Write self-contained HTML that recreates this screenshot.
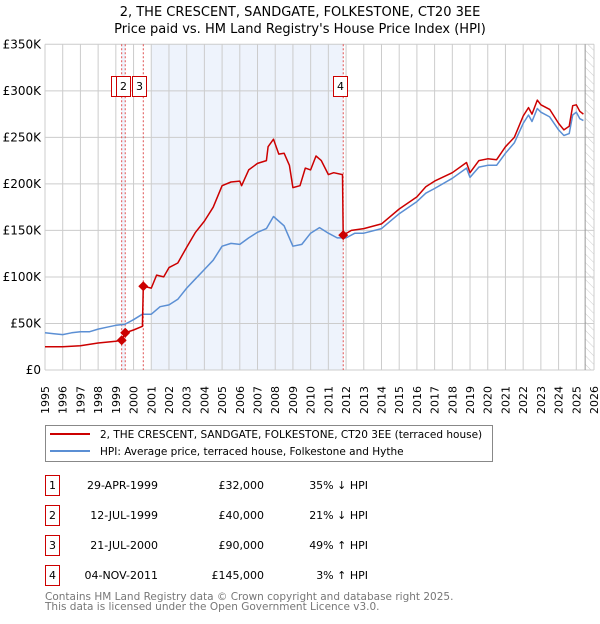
<!DOCTYPE html>
<html><head><meta charset="utf-8">
<style>
body{margin:0;background:#fff;font-family:"DejaVu Sans","Liberation Sans",sans-serif;}
svg text{font-family:"DejaVu Sans","Liberation Sans",sans-serif;}
</style></head>
<body>
<svg id="chart" width="600" height="620" viewBox="0 0 600 620" xmlns="http://www.w3.org/2000/svg">
<defs>
<pattern id="hatch" patternUnits="userSpaceOnUse" width="6" height="6" patternTransform="rotate(-45)">
<line x1="0" y1="0" x2="0" y2="6" stroke="#ccc" stroke-width="1"/>
</pattern>
</defs>
<text x="300" y="16" text-anchor="middle" font-size="13">2, THE CRESCENT, SANDGATE, FOLKESTONE, CT20 3EE</text>
<text x="300" y="33" text-anchor="middle" font-size="13">Price paid vs. HM Land Registry's House Price Index (HPI)</text>
<g id="plot"></g>
<g id="legend">
<rect x="45.5" y="425.5" width="447" height="36" fill="#fff" stroke="#888"/>
<line x1="50" y1="434" x2="90" y2="434" stroke="#cc0000" stroke-width="2"/>
<text x="100" y="438" font-size="10.5">2, THE CRESCENT, SANDGATE, FOLKESTONE, CT20 3EE (terraced house)</text>
<line x1="50" y1="451" x2="90" y2="451" stroke="#5b8fd4" stroke-width="2"/>
<text x="100" y="455" font-size="10.5">HPI: Average price, terraced house, Folkestone and Hythe</text>
</g>
<g id="table"></g>
<text x="45" y="600" font-size="10.5" fill="#777">Contains HM Land Registry data © Crown copyright and database right 2025.</text>
<text x="45" y="610" font-size="10.5" fill="#777">This data is licensed under the Open Government Licence v3.0.</text>
</svg>
<script>
const yTicks=[0,50000,100000,150000,200000,250000,300000,350000];
const yTickLabels=["£0","£50K","£100K","£150K","£200K","£250K","£300K","£350K"];
const hpiYears=[1995,1995.5,1996,1996.5,1997,1997.5,1998,1998.5,1999,1999.5,2000,2000.5,2001,2001.5,2002,2002.5,2003,2003.5,2004,2004.5,2005,2005.5,2006,2006.5,2007,2007.5,2007.9,2008.5,2009,2009.5,2010,2010.5,2011,2011.5,2012,2012.5,2013,2014,2015,2016,2016.5,2017,2018,2018.8,2019,2019.5,2020,2020.5,2021,2021.5,2022,2022.3,2022.5,2022.8,2023,2023.5,2024,2024.3,2024.6,2024.8,2025,2025.2,2025.4];
const hpiValues=[40000,39000,38000,40000,41000,41000,44000,46000,48000,49000,54000,60000,60000,68000,70000,76000,88000,98000,108000,118000,133000,136000,135000,142000,148000,152000,165000,155000,133000,135000,147000,153000,147000,142000,142000,147000,147000,152000,168000,181000,190000,195000,206000,217000,207000,218000,220000,220000,233000,244000,265000,274000,267000,281000,277000,272000,258000,252000,254000,274000,277000,270000,268000];
const propYears=[1995,1996,1997,1998,1999,1999.33,1999.53,2000,2000.5,2000.55,2001,2001.3,2001.7,2002,2002.5,2003,2003.5,2004,2004.5,2005,2005.5,2006,2006.1,2006.5,2007,2007.5,2007.6,2007.9,2008.2,2008.5,2008.8,2009,2009.4,2009.7,2010,2010.3,2010.6,2011,2011.3,2011.8,2011.84,2012.3,2013,2014,2015,2016,2016.5,2017,2018,2018.8,2019,2019.5,2020,2020.5,2021,2021.5,2022,2022.3,2022.5,2022.8,2023,2023.5,2024,2024.3,2024.6,2024.8,2025,2025.2,2025.4];
const propValues=[25000,25000,26000,29000,31000,32000,40000,43000,47000,90000,88000,102000,100000,110000,115000,132000,148000,160000,175000,198000,202000,203000,198000,215000,222000,225000,240000,248000,232000,233000,220000,196000,198000,217000,215000,230000,225000,210000,212000,210000,145000,150000,152000,157000,173000,186000,197000,203000,212000,223000,212000,225000,227000,226000,240000,250000,273000,282000,275000,290000,285000,280000,265000,258000,262000,284000,285000,278000,275000];
const saleLabels=["1","2","3","4"];
const saleYears=[1999.33,1999.53,2000.55,2011.84];
const salePrices=[32000,40000,90000,145000];
const saleDates=["29-APR-1999","12-JUL-1999","21-JUL-2000","04-NOV-2011"];
const salePriceText=["£32,000","£40,000","£90,000","£145,000"];
const salePctText=["35% ↓ HPI","21% ↓ HPI","49% ↑ HPI","3% ↑ HPI"];

const NS="http://www.w3.org/2000/svg";
const X0=45,X1=594,Y0=370,Y1=44.3,YR0=1995,YR1=2026,VMAX=350000;
const xs=y=>X0+(y-YR0)/(YR1-YR0)*(X1-X0);
const ys=v=>Y0-v/VMAX*(Y0-Y1);
function mk(tag,attrs,parent){const e=document.createElementNS(NS,tag);for(const k in attrs)e.setAttribute(k,attrs[k]);parent.appendChild(e);return e;}
const plot=document.getElementById('plot');
let r=mk('rect',{x:X0,y:Y1,width:X1-X0,height:Y0-Y1,fill:'#fff'},plot);


r=mk('rect',{x:xs(saleYears[0]),y:Y1,width:xs(saleYears[1])-xs(saleYears[0]),height:Y0-Y1,fill:'#eef3fc'},plot);


r=mk('rect',{x:xs(2001),y:Y1,width:xs(saleYears[3])-xs(2001),height:Y0-Y1,fill:'#eef3fc'},plot);


r=mk('rect',{x:xs(2025.5),y:Y1,width:X1-xs(2025.5),height:Y0-Y1,fill:'url(#hatch)'},plot);


for(let yr=YR0;yr<=YR1;yr++){
 const x=xs(yr);
 let l=mk('line',{x1:x,y1:Y1,x2:x,y2:Y0,stroke:'#ccc','stroke-width':1},plot);
 
 
 let t=mk('text',{x:0,y:0,'font-size':11,transform:`translate(${x+4},${Y0+44}) rotate(-90)`},plot);
 t.textContent=yr;
 
 
}
yTicks.forEach((v,i)=>{
 const y=ys(v);
 let l=mk('line',{x1:X0,y1:y,x2:X1,y2:y,stroke:'#ccc','stroke-width':1},plot);
 
 
 let t=mk('text',{x:X0-4,y:y+4,'font-size':12,'text-anchor':'end'},plot);
 t.textContent=yTickLabels[i];
 
 
});
let l=mk('line',{x1:xs(2025.5),y1:Y1,x2:xs(2025.5),y2:Y0,stroke:'#999','stroke-width':1},plot);


saleYears.forEach((yr,i)=>{
 let v=mk('line',{x1:xs(yr),y1:Y1,x2:xs(yr),y2:Y0,stroke:'#e05050','stroke-width':1,'stroke-dasharray':'2,2'},plot);
 
 
});
function path(xa,va,color,name){
 const d=xa.map((yr,i)=>(i?'L':'M')+xs(yr).toFixed(1)+','+ys(va[i]).toFixed(1)).join('');
 const p=mk('path',{d:d,fill:'none',stroke:color,'stroke-width':1.5,'stroke-linejoin':'round'},plot);
 
 
}
path(hpiYears,hpiValues,'#5b8fd4','hpi-line');
path(propYears,propValues,'#cc0000','property-line');
saleYears.forEach((yr,i)=>{
 const x=xs(yr),y=ys(salePrices[i]);
 let m=mk('polygon',{points:`${x},${y-5} ${x+5},${y} ${x},${y+5} ${x-5},${y}`,fill:'#cc0000'},plot);
 
 
});
const boxX=[111,116,132,333];
saleLabels.forEach((s,i)=>{
 const g=mk('g',{},plot);
 
 
 mk('rect',{x:boxX[i]+0.5,y:76.5,width:14,height:20,fill:'#fff',stroke:'#cc0000'},g);
 const t=mk('text',{x:boxX[i]+7.5,y:90,'font-size':11,'text-anchor':'middle'},g);
 t.textContent=s;
});
const tbl=document.getElementById('table');
saleLabels.forEach((s,i)=>{
 const y=475+i*30;
 const g=mk('g',{},tbl);
 
 
 mk('rect',{x:45.5,y:y+0.5,width:14,height:20,fill:'#fff',stroke:'#cc0000'},g);
 let t=mk('text',{x:52.5,y:y+14,'font-size':11,'text-anchor':'middle'},g);t.textContent=s;
 t=mk('text',{x:158,y:y+14,'font-size':11,'text-anchor':'end'},g);t.textContent=saleDates[i];
 t=mk('text',{x:264,y:y+14,'font-size':11,'text-anchor':'end'},g);t.textContent=salePriceText[i];
 t=mk('text',{x:368,y:y+14,'font-size':11,'text-anchor':'end'},g);t.textContent=salePctText[i];
});
</script>
</body></html>
